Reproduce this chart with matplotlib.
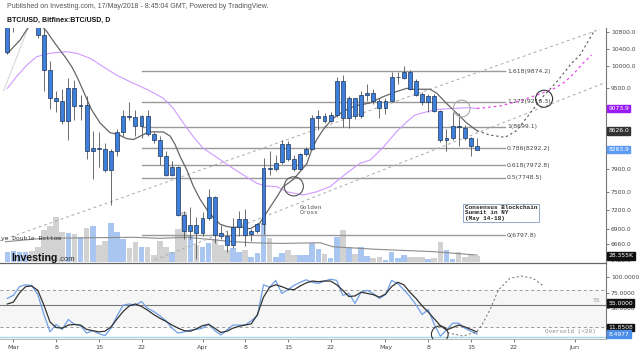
import matplotlib.pyplot as plt
import numpy as np
import pandas as pd
from matplotlib.ticker import FixedLocator, NullLocator, FuncFormatter

# ---- data (BTC/USD daily, Bitfinex) ----
start = pd.Timestamp('2018-02-28')

opens = [10330, 10920, 11040, 11460, 11500, 11430, 10720, 9910, 9300, 9240,
         8810, 9500, 9130, 9150, 8240, 8290, 8270, 7880, 8230, 8610,
         8913, 8905, 8715, 8925, 8570, 8452, 8150, 7807, 7950, 7114,
         6866, 6954, 6830, 7075, 7422, 6830, 6790, 6646, 6934, 7049,
         6813, 6866, 6970, 7930, 7910, 8040, 8370, 8090, 7910, 8180,
         8283, 8878, 8920, 8820, 8945, 9650, 8878, 9290, 8925, 9361,
         9410, 9240, 9085, 9240, 9740, 9720, 9867, 9650, 9380, 9200,
         9330, 9030, 8440, 8480, 8710, 8680, 8480, 8340]
highs = [11070, 11190, 11500, 11530, 11700, 11430, 10900, 10100, 9440, 9490,
         9730, 9690, 9360, 9330, 8615, 8600, 8390, 8270, 8660, 9048,
         9200, 9048, 8940, 9035, 8595, 8515, 8245, 8050, 7968, 7184,
         7255, 7080, 7170, 7546, 7440, 6954, 6866, 7075, 7184, 7211,
         6900, 6990, 8107, 8245, 8160, 8452, 8420, 8169, 8200, 8320,
         8945, 9048, 8990, 9005, 9754, 9795, 9330, 9300, 9440, 9600,
         9490, 9300, 9300, 9870, 9870, 10000, 9900, 9700, 9420, 9380,
         9380, 9040, 8660, 9005, 8986, 8730, 8500, 8480]
lows = [10280, 10790, 11030, 11050, 11400, 10650, 9440, 9070, 9000, 8750,
        8450, 8840, 8840, 8095, 7720, 7950, 7860, 7290, 8150, 8515,
        8830, 8515, 8480, 8515, 8380, 7986, 7780, 7777, 7100, 6737,
        6737, 6440, 6785, 7038, 6683, 6740, 6541, 6600, 6785, 6636,
        6711, 6840, 6813, 7790, 7870, 8000, 8050, 7870, 7880, 8150,
        8250, 8633, 8780, 8790, 8900, 8700, 8680, 8860, 8880, 9220,
        9170, 8878, 8966, 9200, 9590, 9700, 9467, 9330, 9150, 9005,
        9000, 8405, 8245, 8450, 8325, 8450, 8150, 8250]
closes = [10920, 11040, 11460, 11500, 11430, 10720, 9910, 9300, 9240, 8810,
          9500, 9130, 9150, 8240, 8290, 8270, 7880, 8230, 8610, 8913,
          8905, 8715, 8925, 8570, 8452, 8150, 7807, 7950, 7114, 6866,
          6954, 6830, 7075, 7422, 6796, 6790, 6646, 6934, 7049, 6796,
          6866, 6970, 7930, 7910, 8020, 8370, 8090, 7910, 8180, 8283,
          8878, 8920, 8820, 8945, 9650, 8878, 9290, 8925, 9361, 9410,
          9240, 9085, 9240, 9740, 9754, 9867, 9490, 9361, 9210, 9330,
          9030, 8440, 8480, 8710, 8700, 8480, 8340, 8264]
volume_k = [49, 50, 45, 48, 52, 72, 151, 170, 211, 142,
            139, 132, 117, 159, 170, 80, 99, 186, 143, 107,
            65, 96, 69, 69, 33, 101, 72, 49, 155, 238,
            128, 80, 72, 88, 107, 80, 57, 65, 49, 57,
            25, 41, 186, 112, 25, 41, 57, 33, 33, 33,
            88, 60, 38, 17, 117, 151, 69, 38, 72, 28,
            17, 22, 9, 49, 17, 33, 25, 25, 22, 13,
            17, 96, 57, 13, 49, 25, 33, 28.355]

# moving averages, read at a few points (day index, value)
ma_fast_x = [0, 2.1, 4, 5, 6.5, 7.8, 9.7, 10.6, 11.4, 12.5, 13.8, 15.2, 16.8, 18.2,
             19.6, 20.7, 21.8, 22.9, 23.9, 25.6, 26.7, 27.5, 28.3, 29.4, 30.5, 31.6,
             32.7, 33.8, 34.9, 36, 37, 38.1, 39.8, 41.4, 43.1, 44.2, 45.2, 46.9, 48,
             49.1, 49.9, 50.7, 51.8, 53.2, 54.3, 56.2, 57.8, 59.4, 61.6, 63.8, 65.5,
             66.6, 69.3, 70.4, 72, 73.7, 75.3, 77]
ma_fast_p = [10283, 10605, 11050, 11050, 10807, 10527, 10160, 9970, 9760, 9430, 9050,
             8780, 8590, 8550, 8470, 8455, 8520, 8585, 8605, 8600, 8520, 8360, 8140,
             7895, 7600, 7380, 7210, 7075, 6970, 6935, 6920, 6930, 6900, 6990, 7250,
             7420, 7590, 7720, 7860, 8000, 8260, 8450, 8650, 8850, 8950, 9090, 9150,
             9185, 9320, 9430, 9500, 9480, 9480, 9395, 9180, 8975, 8780, 8626.0]
ma_slow_x = [0, 1.5, 3.2, 4.8, 7, 9.7, 11.4, 13.6, 15.7, 17.9, 20.1, 23.1, 25.6, 27.2,
             28.9, 30.5, 32.1, 33.8, 35.4, 37, 38.7, 40.9, 42.5, 44.2, 45.8, 48.5,
             50.7, 52.9, 55.6, 57.8, 59.5, 61.7, 63.8, 65.5, 66.8, 68.8, 70.4, 72.6,
             75.8, 77]
ma_slow_p = [9500, 9755, 10018, 10209, 10289, 10326, 10289, 10171, 9979, 9792, 9645,
             9464, 9286, 9077, 8772, 8508, 8287, 8160, 8037, 7917, 7798, 7652, 7605,
             7595, 7506, 7450, 7506, 7594, 7828, 8008, 8069, 8316, 8605, 8804, 8939,
             9007, 9053, 9072, 9090, 9073.9]
ma_long_x = [-0.6, 3.4]
ma_long_p = [9450, 10900]
vol_ma_x = [-0.3, 5.9, 20.6, 25, 29.5, 37, 40.3, 44.7, 51.3, 53.4, 60.6, 69.8, 77]
vol_ma_k = [96, 112, 117, 112, 117, 96, 91, 88, 91, 72, 60, 49, 33]

# projections drawn on the chart
proj_price_x = [77, 79.1, 81.6, 83.5, 85.7, 87.8, 90.1, 92.5, 93.9, 96.3]
proj_price_p = [8626, 8541, 8497, 8626, 8975, 9320, 9645, 10057, 10249, 10849]
proj_ma_x = [77, 80.7, 84, 87.3, 89.8, 91.4, 93.1, 94.4, 95.8]
proj_ma_p = [9073.9, 9125, 9229, 9378, 9506, 9637, 9859, 10063, 10249]
trend_up_x = [-1.2, 97.2]
trend_up_p = [6714, 10867]
trend_lo_x = [24.2, 98.1]
trend_lo_p = [6430, 9630]

fib_ratio = ['1.618', '1.272', '1', '0.786', '0.618', '0.5', '0']
fib_price = [9874.2, 9216.3, 8699.1, 8292.2, 7972.8, 7748.5, 6797.8]

# stochastic
stoch_k = [66, 71, 85, 88, 87, 72, 40, 12, 24, 16, 32, 24, 22, 10, 14, 9, 6, 18, 38, 55,
           57, 55, 61, 50, 45, 38, 30, 18, 10, 12, 15, 16, 18, 25, 14, 7, 15, 23, 23, 23,
           30, 38, 88, 84, 95, 74, 80, 87, 92, 96, 92, 90, 94, 97, 95, 71, 74, 58, 76, 79,
           74, 66, 72, 95, 90, 80, 69, 56, 40, 48, 24, 5, 15, 26, 26, 18, 13, 8.4977]
stoch_d = [57, 60, 75, 85, 86, 79, 55, 28, 19, 18, 23, 24, 23, 16, 14, 12, 13, 20, 33, 45,
           54, 57, 53, 47, 40, 34, 29, 23, 18, 14, 13, 17, 22, 24, 18, 11, 13, 18, 21, 23,
           25, 40, 68, 84, 88, 85, 81, 80, 86, 91, 94, 93, 94, 94, 88, 79, 69, 70, 76, 74,
           72, 68, 73, 85, 92, 88, 76, 66, 54, 44, 33, 22, 15, 19, 23, 20, 16, 11.8508]
proj_st_x = [77, 77.8, 79.1, 80.5, 82.4, 84.3, 86.2, 87.9]
proj_st_v = [13, 23, 47, 79.5, 98.4, 102, 98.4, 86]
dip_st_x = [72.2, 74.7, 77]
dip_st_v = [10.6, 5.3, 12]

tick_dates = ['2018-03-01', '2018-03-08', '2018-03-15', '2018-03-22', '2018-04-01',
              '2018-04-08', '2018-04-15', '2018-04-22', '2018-05-01', '2018-05-08',
              '2018-05-15', '2018-05-22', '2018-06-01']
tick_labels = ['Mar', '8', '15', '22', 'Apr', '8', '15', '22', 'May', '8', '15', '22', 'Jun']
price_ticks = [10800, 10400, 10000, 9500, 7900, 7500, 7200, 6900, 6660, 6420]
stoch_ticks = [100, 75, 50]

W, H = 640, 353
BLUE = '#3f7fdc'
EDGE = '#1d3557'
TXT = '#444444'


def fy(py):
    return 1 - py / H


fig = plt.figure(figsize=(6.4, 3.53), dpi=100)
ax = fig.add_axes([0, fy(263), 606 / W, 235 / H])
ax_v = ax.twinx()
ax_st = fig.add_axes([0, fy(339), 606 / W, 75 / H])

days = np.arange(len(closes))
o = np.array(opens); c = np.array(closes)
xmin, xmax = -1.2, 98.15

# volume (behind the candles)
vol_col = np.where(c >= o, '#a9c6f0', '#d2d2d2')
ax_v.bar(days, volume_k, width=0.92, color=vol_col, linewidth=0)
ax_v.plot(vol_ma_x, vol_ma_k, color='#8c8c8c', lw=0.8)
ax_v.set_ylim(-4.7, 1107)
ax_v.axis('off')
ax.set_zorder(ax_v.get_zorder() + 1)
ax.patch.set_visible(False)

# price pane
ax.set_yscale('log')
ax.set_xlim(xmin, xmax)
ax.set_ylim(6382, 10899)

for r, p in zip(fib_ratio, fib_price):
    ax.plot([22.1, 81.6], [p, p], color='#999999', lw=1.0, zorder=1)
    ax.text(81.9, p, f'{r}({p})', fontsize=4.4, color=TXT, va='center', ha='left')

ax.plot(trend_up_x, trend_up_p, color='#aaaaaa', lw=0.7, ls=(0, (3, 3)), zorder=1)
ax.plot(trend_lo_x, trend_lo_p, color='#aaaaaa', lw=0.7, ls=(0, (3, 3)), zorder=1)

ax.plot(ma_long_x, ma_long_p, color='#d8d8d8', lw=0.8)
ax.plot(ma_slow_x, ma_slow_p, color='#cf99ff', lw=0.8)
ax.plot(ma_fast_x, ma_fast_p, color='#666666', lw=0.9)
ax.plot(proj_ma_x, proj_ma_p, color='#ee44ee', lw=0.9, ls=(0, (2, 2.5)))
ax.plot(proj_price_x, proj_price_p, color='#555555', lw=0.8, ls=(0, (2, 2.5)))

ax.vlines(days, lows, highs, color='#555555', lw=0.6, zorder=3)
body_lo = np.minimum(o, c)
body_h = np.maximum(np.abs(c - o), 8)
ax.bar(days, body_h, bottom=body_lo, width=0.64, color=BLUE, edgecolor=EDGE,
       linewidth=0.5, zorder=4)

ax.scatter([46.97], [7599], s=190, facecolors='none', edgecolors='#555555', lw=0.8, zorder=5)
ax.scatter([74.5], [9073], s=145, facecolors='none', edgecolors='#aaaaaa', lw=0.8, zorder=5)
ax.scatter([88.0], [9277], s=150, facecolors='none', edgecolors='#333333', lw=0.8, zorder=5)

ax.text(48.0, 7200, 'Golden\nCross', fontsize=4.5, family='Liberation Mono', color='#555555',
        va='center', ha='left', linespacing=1.0)
ax.text(75.0, 7154, 'Consensus Blockchain\nSummit in NY\n(May 14-18)', fontsize=4.3,
        family='Liberation Mono', weight='bold', color='#222222', va='center', ha='left',
        linespacing=1.05,
        bbox=dict(boxstyle='square,pad=0.25', fc='white', ec='#8fa9c8', lw=0.7))
ax.text(-1.05, 6743, 'ye Double Bottom', fontsize=4.5, family='Liberation Mono',
        color='#333333', va='center', ha='left')

ax.yaxis.tick_right()
ax.yaxis.set_major_locator(FixedLocator(price_ticks))
ax.yaxis.set_major_formatter(FuncFormatter(lambda v, _: f'{v:.1f}'))
ax.yaxis.set_minor_locator(NullLocator())
ax.tick_params(axis='y', labelsize=4.3, colors=TXT, length=2, width=0.5, pad=1.5)
ax.set_xticks([])
for s in ('left', 'top'):
    ax.spines[s].set_visible(False)
ax.spines['right'].set_color('#777777')
ax.spines['right'].set_linewidth(0.8)
ax.spines['bottom'].set_color('#666666')
ax.spines['bottom'].set_linewidth(0.9)


def axis_box(a, y, text, fc):
    a.text(1.004, y, text, transform=a.get_yaxis_transform(), fontsize=4.3, color='white',
           va='center', ha='left', clip_on=False, zorder=10,
           bbox=dict(boxstyle='square,pad=0.22', fc=fc, ec=fc))


axis_box(ax, 9073.9, '9073.9', '#9b1cf0')
axis_box(ax, 8626.0, '8626.0', '#333333')
axis_box(ax, 8263.9, '8263.9', '#5d9cf2')
axis_box(ax, 6488, '28.355K', '#111111')

# stochastic pane
ax_st.set_xlim(xmin, xmax)
ax_st.set_ylim(0.5, 121.5)
ax_st.axhspan(20, 80, color='#f6f6f6', zorder=0)
ax_st.axhline(80, color='#999999', lw=0.7, ls=(0, (3, 3)))
ax_st.axhline(20, color='#999999', lw=0.7, ls=(0, (3, 3)))
ax_st.axhline(55, color='#777777', lw=0.8)
ax_st.axhline(3, color='#9fd8ea', lw=1.0)
ax_st.plot(days, stoch_k, color='#6f9fe8', lw=0.9)
ax_st.plot(days, stoch_d, color='#333333', lw=0.9)
ax_st.plot(proj_st_x, proj_st_v, color='#666666', lw=0.7, ls=(0, (2, 2.5)))
ax_st.plot(dip_st_x, dip_st_v, color='#666666', lw=0.7, ls=(0, (2, 2.5)))
ax_st.scatter([70.9], [8], s=145, facecolors='none', edgecolors='#333333', lw=0.8, zorder=5)
ax_st.text(96.5, 13.4, 'Oversold (<20)', fontsize=4.3, family='Liberation Mono',
           color='#888888', va='center', ha='right')
ax_st.text(96.0, 62.9, '55', fontsize=4.3, color='#999999', va='center', ha='left')

ax_st.yaxis.tick_right()
ax_st.set_yticks(stoch_ticks)
ax_st.yaxis.set_major_formatter(FuncFormatter(lambda v, _: f'{v:.4f}'))
ax_st.tick_params(axis='y', labelsize=4.3, colors=TXT, length=2, width=0.5, pad=1.5)
tick_pos = [(pd.Timestamp(d) - start).days for d in tick_dates]
ax_st.set_xticks(tick_pos)
ax_st.set_xticklabels(tick_labels)
ax_st.tick_params(axis='x', labelsize=4.6, colors=TXT, length=2, width=0.5, pad=2)
for s in ('left', 'top'):
    ax_st.spines[s].set_visible(False)
ax_st.spines['right'].set_color('#777777')
ax_st.spines['right'].set_linewidth(0.8)
ax_st.spines['bottom'].set_color('#aaaaaa')
ax_st.spines['bottom'].set_linewidth(0.6)

axis_box(ax_st, 58.5, '55.0000', '#111111')
axis_box(ax_st, 19.0, '11.8508', '#111111')
axis_box(ax_st, 8.4977, '8.4977', '#4d8fe8')

# header + logo
fig.text(7 / W, fy(6), 'Published on Investing.com, 17/May/2018 - 8:45:04 GMT, Powered by TradingView.',
         fontsize=5, family='Liberation Sans', color='#555555', va='center', ha='left')
fig.text(7 / W, fy(20), 'BTC/USD, Bitfinex:BTC/USD, D', fontsize=5, family='Liberation Sans',
         weight='bold', color='#111111', va='center', ha='left')
fig.text(11 / W, fy(258), 'Investing', fontsize=7.6, family='Liberation Sans', weight='bold',
         color='#111111', va='center', ha='left', zorder=20)
fig.text(58.5 / W, fy(259.5), '.com', fontsize=5.5, family='Liberation Sans',
         color='#333333', va='center', ha='left', zorder=20)

fig.savefig('out.png', dpi=100)
